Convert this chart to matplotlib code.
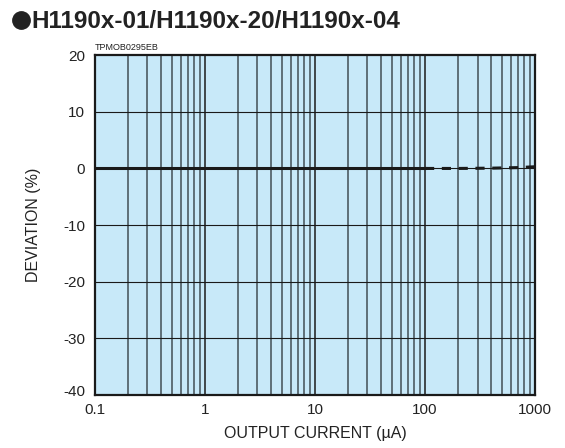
import numpy as np
import matplotlib.pyplot as plt
import matplotlib.transforms as mtransforms
from matplotlib.lines import Line2D

# measured data (solid) and extrapolated (dashed)
x_solid = [0.1, 1, 10, 100]
y_solid = [0.0, 0.0, 0.0, 0.0]
x_dash = [100, 200, 400, 700, 1000]
y_dash = [0.0, 0.0, 0.05, 0.15, 0.3]

yticks = [-40, -30, -20, -10, 0, 10, 20]
yticklabels = ["-40", "-30", "-20", "-10", "0", "10", "20"]
xticks = [0.1, 1, 10, 100, 1000]
xticklabels = ["0.1", "1", "10", "100", "1000"]

plt.rcParams['font.family'] = ['Liberation Sans', 'DejaVu Sans']

fig = plt.figure(figsize=(5.65, 4.48), dpi=100)
ax = fig.add_axes([0.168, 0.118, 0.779, 0.759])
ax.set_facecolor('#c8e9f9')

ax.set_xscale('log')
ax.set_xlim(0.1, 1000)
ax.set_ylim(-40, 20)

# grid lines
for dec in [0.1, 1, 10, 100]:
    for m in range(2, 10):
        ax.axvline(dec * m, color='#56666e', lw=1.3, zorder=1)
for dec in [1, 10, 100]:
    ax.axvline(dec, color='#1a1a1a', lw=1.1, zorder=1)
for yv in yticks[1:-1]:
    ax.axhline(yv, color='#1a1a1a', lw=0.8, zorder=1)

ax.plot(x_solid, y_solid, color='#1a1a1a', lw=2.2, zorder=3)
ax.plot(x_dash, y_dash, color='#1a1a1a', lw=2.2, ls=(0, (3, 2.5)), zorder=3)

ax.set_xticks(xticks)
ax.set_xticklabels(xticklabels)
ax.set_xticks([], minor=True)
ax.set_yticks(yticks)
ax.set_yticklabels(yticklabels)
ax.tick_params(length=0, labelsize=11, colors='#222222', pad=6)
ax.tick_params(axis='y', pad=7)
# lift the bottom y label a little, like the original
lbl = ax.get_yticklabels()[0]
lbl.set_transform(lbl.get_transform() + mtransforms.ScaledTranslation(0, 3 / 72, fig.dpi_scale_trans))
for s in ax.spines.values():
    s.set_linewidth(1.6)
    s.set_color('#1a1a1a')

ax.set_xlabel('OUTPUT CURRENT (µA)', fontsize=11.5, color='#222222', labelpad=6)
ax.set_ylabel('DEVIATION (%)', fontsize=11.5, color='#222222', labelpad=16)

# title with bullet
fig.add_artist(Line2D([0.038], [0.955], marker='o', markersize=12.5,
                      color='#222222', transform=fig.transFigure))
fig.text(0.055, 0.953, 'H1190x-01/H1190x-20/H1190x-04', fontsize=17.5,
         fontweight='bold', color='#222222', va='center')
fig.text(0.168, 0.893, 'TPMOB0295EB', fontsize=6.5, color='#222222', va='center')

fig.savefig('out.png', dpi=100)
